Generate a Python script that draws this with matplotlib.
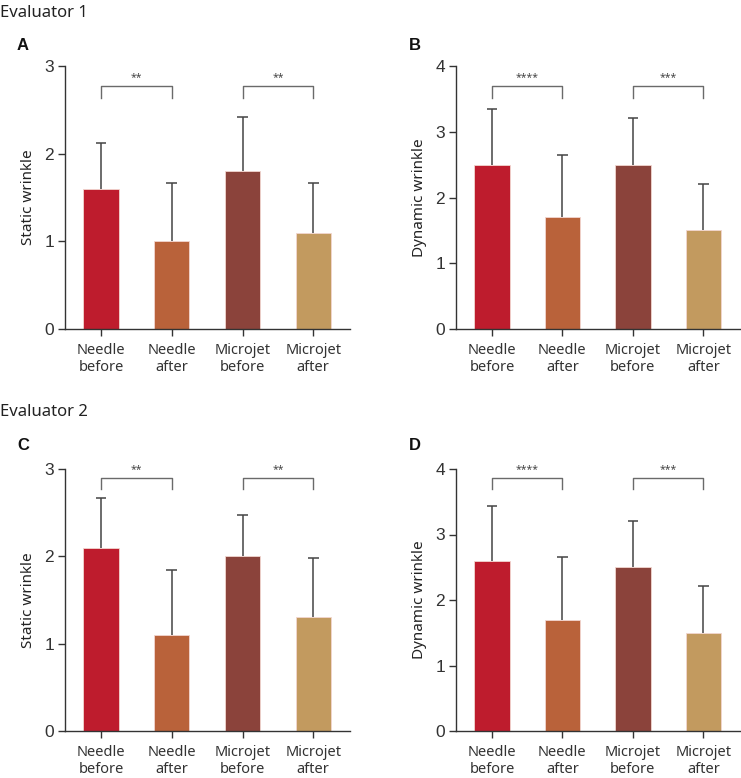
import matplotlib
matplotlib.use("Agg")
import matplotlib.pyplot as plt

# Data
groups = ["Needle\nbefore", "Needle\nafter", "Microjet\nbefore", "Microjet\nafter"]
colors = ["#BE1C2D", "#B9623A", "#8B433B", "#C29A5F"]

static_e1 = [1.6, 1.0, 1.8, 1.1]
static_e1_sd = [0.52, 0.67, 0.62, 0.57]
dynamic_e1 = [2.5, 1.7, 2.5, 1.5]
dynamic_e1_sd = [0.84, 0.95, 0.71, 0.71]
static_e2 = [2.1, 1.1, 2.0, 1.3]
static_e2_sd = [0.57, 0.74, 0.47, 0.68]
dynamic_e2 = [2.6, 1.7, 2.5, 1.5]
dynamic_e2_sd = [0.84, 0.95, 0.71, 0.71]

stars_static = ["**", "**"]
stars_dynamic = ["****", "***"]

plt.rcParams["font.family"] = ["Noto Sans", "DejaVu Sans"]
fig = plt.figure(figsize=(7.41, 7.78), dpi=100)

W, H = 741, 778


def make_ax(left, right, top, bottom):
    return fig.add_axes([left / W, 1 - bottom / H, (right - left) / W, (bottom - top) / H])


def panel(ax, vals, sd, ymax, ylabel, stars, br_y, leg_y):
    x = list(range(len(vals)))
    tops = [v + s for v, s in zip(vals, sd)]
    # upper-only error bars, drawn behind the bars
    ax.vlines(x, vals, tops, color="#444444", lw=1.1, zorder=1)
    ax.hlines(tops, [i - 0.075 for i in x], [i + 0.075 for i in x], color="#444444",
              lw=1.1, zorder=1)
    ax.bar(x, vals, width=0.5, color=colors, edgecolor="#f2d6d0", linewidth=0.6, zorder=2)
    ax.set_xlim(-0.51, 3.52)
    ax.set_ylim(0, ymax)
    ax.set_yticks(range(ymax + 1))
    ax.set_xticks(x)
    ax.set_xticklabels(groups, fontsize=10.5, color="#333333", linespacing=1.2)
    for lab in ax.get_yticklabels():
        lab.set_fontfamily("Liberation Sans")
        lab.set_fontsize(12.5)
        lab.set_color("#222222")
    ax.set_ylabel(ylabel, fontsize=11, color="#222222", labelpad=6)
    for s in ["top", "right"]:
        ax.spines[s].set_visible(False)
    for s in ["left", "bottom"]:
        ax.spines[s].set_color("#333333")
        ax.spines[s].set_linewidth(1.0)
    ax.tick_params(axis="both", colors="#333333", length=5, width=1.0)
    ax.tick_params(axis="y", pad=3)
    ax.tick_params(axis="x", pad=5)
    for (a, b), st in zip([(0, 1), (2, 3)], stars):
        ax.plot([a, a, b, b], [leg_y, br_y, br_y, leg_y], color="#6a6a6a", lw=1.0,
                clip_on=False)
        ax.text((a + b) / 2, br_y + ymax * 0.012, st, ha="center", va="bottom",
                fontsize=7.5, color="#444444")


axA = make_ax(65, 350, 66, 329)
axB = make_ax(456, 740, 66, 329)
axC = make_ax(65, 350, 469, 731)
axD = make_ax(456, 740, 469, 731)

panel(axA, static_e1, static_e1_sd, 3, "Static wrinkle", stars_static, 2.77, 2.64)
panel(axB, dynamic_e1, dynamic_e1_sd, 4, "Dynamic wrinkle", stars_dynamic, 3.70, 3.52)
panel(axC, static_e2, static_e2_sd, 3, "Static wrinkle", stars_static, 2.90, 2.77)
panel(axD, dynamic_e2, dynamic_e2_sd, 4, "Dynamic wrinkle", stars_dynamic, 3.86, 3.69)

fig.text(0 / W, 1 - 13 / H, "Evaluator 1", fontsize=12, color="#222222", va="center", ha="left")
fig.text(0 / W, 1 - 412 / H, "Evaluator 2", fontsize=12, color="#222222", va="center", ha="left")
for lab, xx, yy in [("A", 17, 45), ("B", 409, 45), ("C", 17, 445), ("D", 409, 445)]:
    fig.text(xx / W, 1 - yy / H, lab, fontsize=12, fontweight="bold", color="#111111",
             va="center", ha="left", family="Liberation Sans")

fig.savefig("out.png", dpi=100)
